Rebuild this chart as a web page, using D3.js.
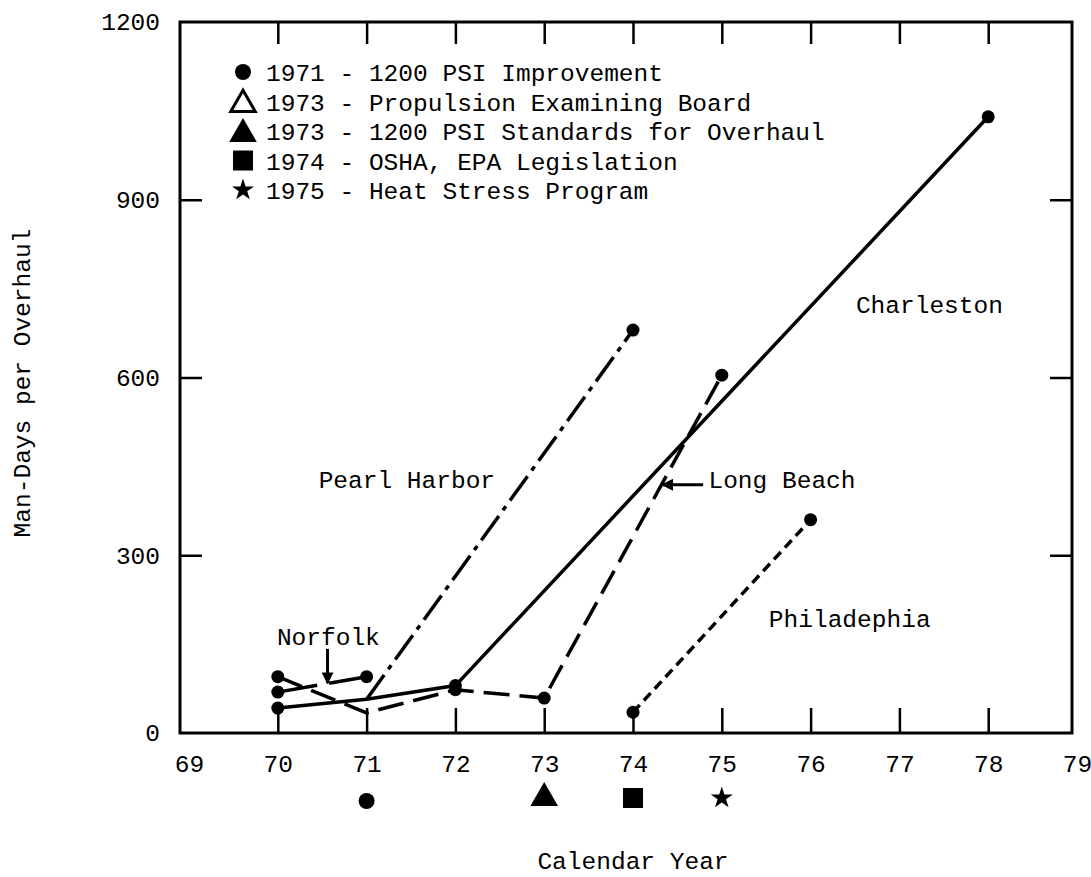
<!DOCTYPE html>
<html>
<head>
<meta charset="utf-8">
<script src="https://cdn.jsdelivr.net/npm/d3@7"></script>
<style>
  body { margin: 0; background: #fff; }
  text { font-family: "Liberation Mono", "Courier New", monospace; fill: #000; }
</style>
</head>
<body>
<script>
// Tick values
const xTicks = [69, 70, 71, 72, 73, 74, 75, 76, 77, 78, 79];
const yTicks = [0, 300, 600, 900, 1200];

// Series (calendar year, man-days per overhaul)
const charlestonYears = [70, 71, 72, 78];
const charlestonValues = [42, 57, 80, 1040];
const charlestonDots = [true, false, true, true];

const pearlYears = [71, 74];
const pearlValues = [57, 680];
const pearlDots = [false, true];

const longBeachYears = [70, 71, 72, 73, 75];
const longBeachValues = [95, 34, 73, 59, 604];
const longBeachDots = [true, false, true, true, true];

const philadelphiaYears = [74, 76];
const philadelphiaValues = [35, 360];
const philadelphiaDots = [true, true];

const norfolkYears = [70, 71];
const norfolkValues = [69, 95];
const norfolkDots = [true, true];

// Legend events
const eventYears = [1971, 1973, 1973, 1974, 1975];
const eventLabels = ['1200 PSI Improvement', 'Propulsion Examining Board',
  '1200 PSI Standards for Overhaul', 'OSHA, EPA Legislation', 'Heat Stress Program'];
const eventSymbols = ['circle', 'triangleOpen', 'triangle', 'square', 'star'];

// Markers under the year axis
const markerYears = [71, 73, 74, 75];
const markerSymbols = ['circle', 'triangle', 'square', 'star'];

const W = 1091, H = 877;
const svg = d3.select('body').append('svg').attr('width', W).attr('height', H);

const x = d3.scaleLinear().domain([69, 79]).range([189, 1077]);
const y = d3.scaleLinear().domain([0, 1200]).range([733, 22]);

const FS = 24.5;
const frame = { left: 180, right: 1072, top: 22, bottom: 733 };

// Frame
svg.append('rect')
  .attr('x', frame.left).attr('y', frame.top)
  .attr('width', frame.right - frame.left).attr('height', frame.bottom - frame.top)
  .attr('fill', 'none').attr('stroke', '#000').attr('stroke-width', 3);

function styleAxis(g) {
  g.select('.domain').remove();
  g.selectAll('.tick line').attr('stroke', '#000').attr('stroke-width', 2.5);
  g.selectAll('.tick text').style('font-size', FS + 'px').attr('fill', '#000');
}

// Bottom axis (labels 69..79, ticks 70..78 pointing up)
svg.append('g')
  .attr('transform', `translate(0,${frame.bottom})`)
  .call(d3.axisBottom(x).tickValues(xTicks).tickSize(-25).tickPadding(22).tickFormat(d3.format('d')))
  .call(styleAxis)
  .call(g => g.selectAll('.tick line').filter(d => d === 69 || d === 79).remove());

// Top axis ticks
svg.append('g')
  .attr('transform', `translate(0,${frame.top})`)
  .call(d3.axisTop(x).tickValues(xTicks.slice(1, -1)).tickSize(-22).tickFormat(''))
  .call(styleAxis);

// Left axis
svg.append('g')
  .attr('transform', `translate(${frame.left},0)`)
  .call(d3.axisLeft(y).tickValues(yTicks).tickSize(-22).tickPadding(20).tickFormat(d3.format('d')))
  .call(styleAxis)
  .call(g => g.selectAll('.tick line').filter(d => d === 0 || d === 1200).remove());

// Right axis ticks
svg.append('g')
  .attr('transform', `translate(${frame.right},0)`)
  .call(d3.axisRight(y).tickValues(yTicks.slice(1, -1)).tickSize(-22).tickFormat(''))
  .call(styleAxis);

// Lines
const line = d3.line().x(d => x(d.year)).y(d => y(d.value));

function series(years, values, dots, dash) {
  const pts = years.map((yr, i) => ({ year: yr, value: values[i], dot: dots[i] }));
  svg.append('path')
    .datum(pts)
    .attr('d', line)
    .attr('fill', 'none')
    .attr('stroke', '#000')
    .attr('stroke-width', 3.5)
    .attr('stroke-dasharray', dash);
  svg.selectAll(null)
    .data(pts.filter(d => d.dot))
    .enter()
    .append('circle')
    .attr('cx', d => x(d.year))
    .attr('cy', d => y(d.value))
    .attr('r', 6.5)
    .attr('fill', '#000');
}

series(charlestonYears, charlestonValues, charlestonDots, null);
series(pearlYears, pearlValues, pearlDots, '30,7,5,7');
series(longBeachYears, longBeachValues, longBeachDots, '26,10');
series(philadelphiaYears, philadelphiaValues, philadelphiaDots, '10,6');
series(norfolkYears, norfolkValues, norfolkDots, '40,12');

// Annotations
function label(txt, yr, val) {
  svg.append('text').attr('x', x(yr)).attr('y', y(val))
    .style('font-size', FS + 'px').text(txt);
}
label('Pearl Harbor', 70.46, 413);
label('Charleston', 76.51, 709);
label('Long Beach', 74.85, 413);
label('Philadephia', 75.53, 179);
label('Norfolk', 69.99, 149);

svg.append('defs').append('marker')
  .attr('id', 'arrow')
  .attr('viewBox', '0 0 10 10')
  .attr('refX', 9).attr('refY', 5)
  .attr('markerWidth', 4).attr('markerHeight', 4)
  .attr('orient', 'auto')
  .append('path').attr('d', 'M0,0L10,5L0,10Z').attr('fill', '#000');

function arrow(y1, v1, y2, v2) {
  svg.append('line')
    .attr('x1', x(y1)).attr('y1', y(v1))
    .attr('x2', x(y2)).attr('y2', y(v2))
    .attr('stroke', '#000').attr('stroke-width', 3)
    .attr('marker-end', 'url(#arrow)');
}
arrow(74.79, 419, 74.33, 419);
arrow(70.56, 142, 70.56, 84);

// Symbols
function symbolPath(name) {
  const types = {
    circle: [d3.symbolCircle, 201],
    triangle: [d3.symbolTriangle, 330],
    triangleOpen: [d3.symbolTriangle, 260],
    square: [d3.symbolSquare, 400],
    star: [d3.symbolStar, 150]
  };
  const t = types[name];
  return d3.symbol().type(t[0]).size(t[1])();
}

function drawSymbol(name, cx, cy) {
  svg.append('path')
    .attr('d', symbolPath(name))
    .attr('transform', `translate(${cx},${cy})`)
    .attr('fill', name === 'triangleOpen' ? '#fff' : '#000')
    .attr('stroke', '#000')
    .attr('stroke-width', name === 'triangleOpen' ? 3 : 0);
}

// Legend
const legendTop = 72, legendStep = 29.5;
eventYears.forEach((yr, i) => {
  const ry = legendTop + i * legendStep;
  drawSymbol(eventSymbols[i], 243, ry + (eventSymbols[i].startsWith('triangle') ? 3 : 0));
  svg.append('text')
    .attr('x', 266).attr('y', ry + 9)
    .style('font-size', FS + 'px')
    .text(`${yr} - ${eventLabels[i]}`);
});

// Event markers below the axis
markerYears.forEach((yr, i) => {
  drawSymbol(markerSymbols[i], x(yr), markerSymbols[i] === 'circle' ? 801 : 798);
});

// Axis titles
svg.append('text')
  .attr('x', x(74)).attr('y', 869)
  .attr('text-anchor', 'middle')
  .style('font-size', FS + 'px')
  .text('Calendar Year');

svg.append('text')
  .attr('transform', 'translate(30,383) rotate(-90)')
  .attr('text-anchor', 'middle')
  .style('font-size', FS + 'px')
  .text('Man-Days per Overhaul');
</script>
</body>
</html>
